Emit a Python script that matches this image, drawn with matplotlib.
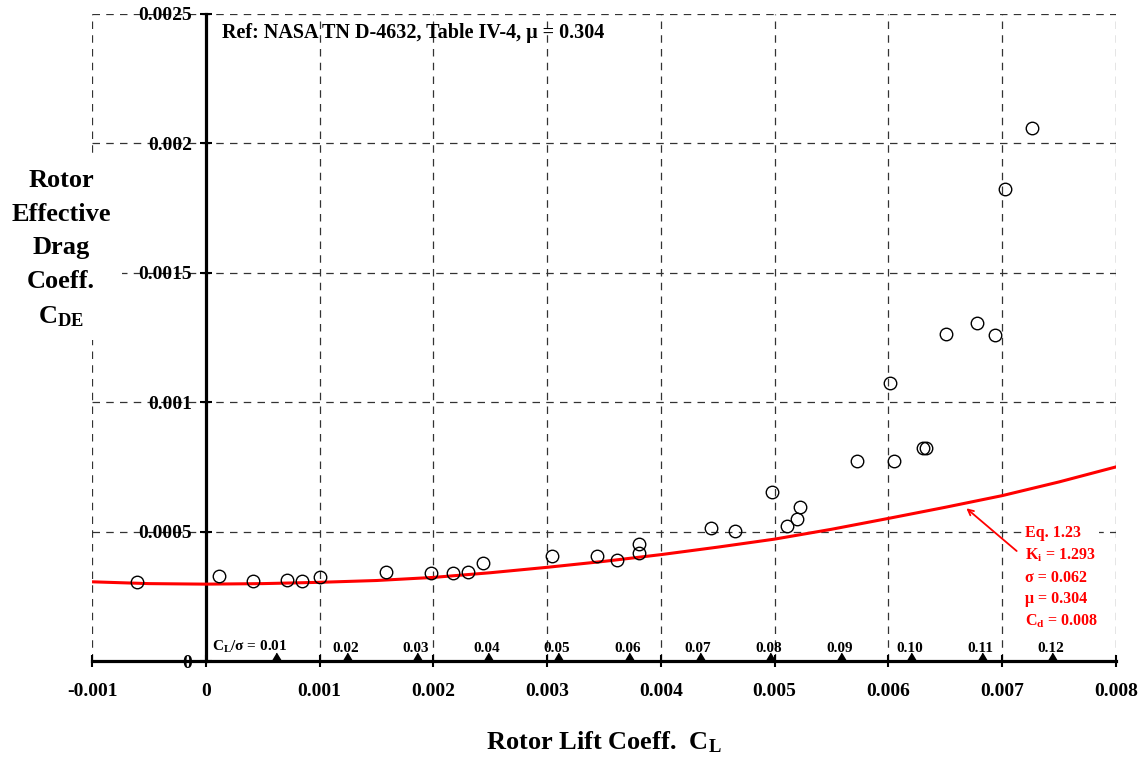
"""
Rotor effective drag coefficient vs rotor lift coefficient (NASA TN D-4632, Table IV-4).
"""
import matplotlib
matplotlib.use("Agg")
import matplotlib.pyplot as plt
import numpy as np

plt.rcParams["font.family"] = ["Liberation Serif", "DejaVu Serif"]
plt.rcParams["font.weight"] = "bold"
plt.rcParams["mathtext.default"] = "regular"

# test points
CL_PTS = [-0.000604, 0.000117, 0.000416, 0.000718, 0.00085, 0.001002, 0.001582,
          0.001983, 0.00217, 0.002302, 0.002437, 0.003047, 0.003436, 0.003614,
          0.003805, 0.003805, 0.004438, 0.004649, 0.00498, 0.00511, 0.0052,
          0.005226, 0.005723, 0.00601, 0.006046, 0.006303, 0.006327, 0.006503,
          0.006778, 0.006936, 0.007027, 0.007258]
CDE_PTS = [0.000304, 0.000328, 0.000309, 0.000313, 0.000308, 0.000323, 0.000343,
           0.000339, 0.000339, 0.000343, 0.000378, 0.000406, 0.000406, 0.00039,
           0.000416, 0.000451, 0.000513, 0.000502, 0.000654, 0.000523, 0.000547,
           0.000596, 0.000773, 0.001075, 0.000773, 0.000822, 0.000822, 0.001264,
           0.001305, 0.00126, 0.001823, 0.00206]

# Eq. 1.23 curve
CURVE_CL = [-0.001, -0.0005, 0.0, 0.0005, 0.001, 0.0015, 0.002, 0.0025, 0.003, 0.0035,
            0.004, 0.0045, 0.005, 0.0055, 0.006, 0.0065, 0.007, 0.0075, 0.008]
CURVE_CDE = [0.000306, 0.000299, 0.000297, 0.000299, 0.000304, 0.000311, 0.000323,
             0.000341, 0.000362, 0.000385, 0.000411, 0.00044, 0.000471, 0.000509,
             0.000551, 0.000594, 0.000639, 0.000692, 0.00075]

SIGMA = 0.062
CL_SIGMA = [0.01, 0.02, 0.03, 0.04, 0.05, 0.06, 0.07, 0.08, 0.09, 0.10, 0.11, 0.12]
CL_SIGMA_LABELS = ["0.01", "0.02", "0.03", "0.04", "0.05", "0.06",
                   "0.07", "0.08", "0.09", "0.10", "0.11", "0.12"]

X_TICKS = [-0.001, 0, 0.001, 0.002, 0.003, 0.004, 0.005, 0.006, 0.007, 0.008]
Y_TICKS = [0, 0.0005, 0.001, 0.0015, 0.002, 0.0025]

# annotation arrow (curve point <- text)
ARROW_TIP = (0.006685, 0.00059)
ARROW_TAIL = (0.007127, 0.000425)


def main():
    fig = plt.figure(figsize=(11.44, 7.59), dpi=100)
    ax = fig.add_axes([92 / 1144, 98 / 759, 1024 / 1144, 647 / 759])
    ax.set_xlim(-0.001, 0.008)
    ax.set_ylim(0, 0.0025)

    ax.set_xticks(X_TICKS)
    ax.set_yticks(Y_TICKS)
    ax.set_xticklabels(["%g" % v for v in X_TICKS])
    ax.set_yticklabels(["%g" % v for v in Y_TICKS])
    ax.tick_params(axis="both", direction="inout", length=8, width=1.5,
                   labelsize=14, color="black")
    ax.tick_params(axis="x", pad=12)
    ax.tick_params(axis="y", pad=6)
    for lab in ax.get_xticklabels() + ax.get_yticklabels():
        lab.set_fontweight("bold")

    ax.grid(True, color="#333333", lw=0.9, dashes=(6, 5))
    ax.set_axisbelow(True)

    ax.spines["left"].set_position(("data", 0))
    ax.spines["left"].set_linewidth(2.3)
    ax.spines["bottom"].set_linewidth(2.3)
    ax.spines["top"].set_visible(False)
    ax.spines["right"].set_visible(False)

    ax.plot(CURVE_CL, CURVE_CDE, color="#ff0000", lw=2.2, zorder=3)
    ax.plot(CL_PTS, CDE_PTS, "o", ms=9, mfc="none", mec="black", mew=1.0, zorder=4)

    # C_L / sigma markers along the axis
    cl_marks = [s * SIGMA for s in CL_SIGMA]
    tri = [(-0.6, 0), (0.6, 0), (0, 1)]
    ax.plot(cl_marks, [0] * len(cl_marks), ls="none", marker=tri, ms=12,
            color="black", clip_on=False, zorder=5)
    for i, (x, lab) in enumerate(zip(cl_marks, CL_SIGMA_LABELS)):
        if i == 0:
            ax.annotate("C$_L$/σ = " + lab, xy=(x, 0), xytext=(8, 4), textcoords="offset points",
                        ha="right", va="bottom", fontsize=11, fontweight="bold")
        else:
            ax.annotate(lab, xy=(x, 0), xytext=(-1, 4), textcoords="offset points",
                        ha="center", va="bottom", fontsize=11, fontweight="bold")

    ax.text(0.127, 0.971, "Ref: NASA TN D-4632, Table IV-4, μ = 0.304", transform=ax.transAxes,
            ha="left", va="center", fontsize=14.5, fontweight="bold")

    ax.annotate("", xy=ARROW_TIP, xytext=ARROW_TAIL,
                arrowprops=dict(arrowstyle="->", color="#ff0000", lw=1.3,
                                shrinkA=0, shrinkB=0))
    ax.text(0.0072, 0.000525, "Eq. 1.23\nK$_i$ = 1.293\nσ = 0.062\nμ = 0.304\nC$_d$ = 0.008",
            ha="left", va="top", fontsize=11.5, fontweight="bold", color="#ff0000",
            linespacing=1.45, zorder=6,
            bbox=dict(facecolor="white", edgecolor="none", pad=1))

    fig.text(61 / 1144, 1 - 249 / 759, "Rotor\nEffective\nDrag\nCoeff.\nC$_{DE}$",
             ha="center", va="center", fontsize=19, fontweight="bold", linespacing=1.6,
             bbox=dict(facecolor="white", edgecolor="none", pad=8))
    fig.text(604 / 1144, 1 - 742 / 759, "Rotor Lift Coeff.  C$_L$",
             ha="center", va="center", fontsize=19, fontweight="bold")

    fig.savefig("out.png", dpi=100)
    plt.close(fig)


if __name__ == "__main__":
    main()
